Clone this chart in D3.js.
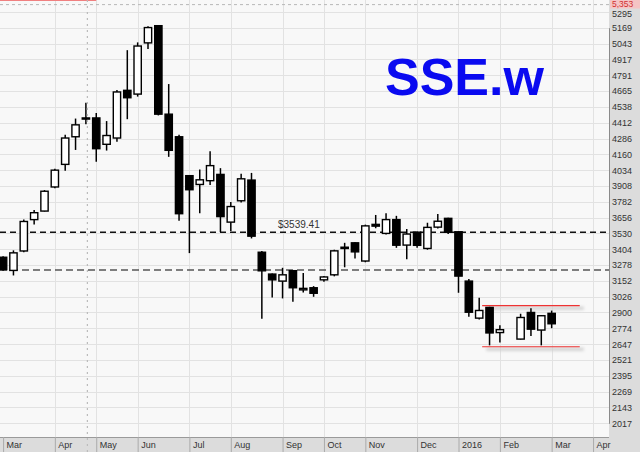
<!DOCTYPE html>
<html><head><meta charset="utf-8">
<script src="https://cdn.jsdelivr.net/npm/d3@7"></script>
<style>
html,body{margin:0;padding:0;background:#fff;}
svg{display:block;font-family:"Liberation Sans",Arial,sans-serif;}
</style></head>
<body>
<svg id="chart" width="640" height="452"></svg>
<script>
// ---- data (weekly SSE candles) ----
const weeks = ["2015-03-02","2015-03-09","2015-03-16","2015-03-23","2015-03-30","2015-04-06","2015-04-13","2015-04-20","2015-04-27","2015-05-04","2015-05-11","2015-05-18","2015-05-25","2015-06-01","2015-06-08","2015-06-15","2015-06-22","2015-06-29","2015-07-06","2015-07-13","2015-07-20","2015-07-27","2015-08-03","2015-08-10","2015-08-17","2015-08-24","2015-08-31","2015-09-07","2015-09-14","2015-09-21","2015-09-28","2015-10-05","2015-10-12","2015-10-19","2015-10-26","2015-11-02","2015-11-09","2015-11-16","2015-11-23","2015-11-30","2015-12-07","2015-12-14","2015-12-21","2015-12-28","2016-01-04","2016-01-11","2016-01-18","2016-01-25","2016-02-01","2016-02-15","2016-02-22","2016-02-29","2016-03-07"];
const open  = [3340,3235,3390,3640,3708,3900,4080,4300,4450,4450,4240,4290,4670,4640,5048,5185,4480,4300,3990,3920,3950,4000,3620,3790,3955,3380,3206,3150,3233,3080,3097,3160,3200,3420,3455,3310,3602,3530,3640,3437,3540,3410,3580,3650,3543,3150,2855,2940,2740,2688,2900,2760,2893];
const high  = [3347,3395,3640,3716,3875,4045,4317,4445,4572,4490,4425,4672,4990,5052,5180,5190,4720,4317,3990,4040,4185,4050,3780,4006,4012,3390,3210,3256,3235,3215,3110,3190,3400,3455,3460,3600,3677,3690,3670,3565,3545,3615,3685,3655,3546,3167,3018,2945,2798,2890,2933,2880,2915];
const low   = [3233,3195,3380,3600,3705,3890,4030,4195,4400,4100,4190,4260,4440,4620,5000,4470,4140,3630,3373,3690,3915,3540,3550,3776,3490,2850,3020,3012,2985,3060,3025,3145,3188,3260,3330,3300,3571,3522,3415,3325,3415,3400,3570,3525,3057,2866,2845,2638,2660,2685,2713,2638,2775];
const close = [3241,3375,3625,3695,3866,4034,4290,4395,4441,4205,4310,4657,4611,5023,5170,4480,4192,3687,3878,3957,4070,3664,3744,3965,3508,3232,3160,3200,3097,3092,3053,3183,3391,3410,3383,3590,3588,3640,3436,3525,3435,3578,3627,3539,3190,2902,2916,2737,2763,2860,2767,2874,2810];

const monthTicks  = ["2015-03-02","2015-04-06","2015-05-04","2015-06-01","2015-07-06","2015-08-03","2015-09-07","2015-10-05","2015-11-02","2015-12-07","2016-01-04","2016-02-01","2016-03-07","2016-04-04"];
const monthLabels = ["Mar","Apr","May","Jun","Jul","Aug","Sep","Oct","Nov","Dec","2016","Feb","Mar","Apr"];
const yTicks = [5295,5169,5043,4917,4791,4665,4538,4412,4286,4160,4034,3908,3782,3656,3530,3404,3278,3152,3026,2900,2774,2647,2521,2395,2269,2143,2017];

const levelLine = 3539.41;      // black dashed
const levelLine2 = 3238;        // gray dashed
const topLevel = 5353;          // gray dotted top
const resistance = 2954;        // red lines
const support = 2627;
const rangeStart = "2016-01-20", rangeEnd = "2016-03-26";
const cursorDate = "2015-04-28";
const title = "SSE.w";

// ---- layout ----
const W = 640, H = 452, plotR = 609, plotB = 437;
const parse = d3.timeParse("%Y-%m-%d");
const svg = d3.select("#chart");

const x = d3.scaleTime()
  .domain([parse("2015-03-02"), parse("2016-04-04")])
  .range([3.1, 3.1 + 57 * 10.35]);
const y = d3.scaleLinear().domain([2017, 5169]).range([423.3, 27.7]);

// backgrounds
svg.append("rect").attr("x",0).attr("y",0).attr("width",W).attr("height",H).attr("fill","#dcdcdc");
svg.append("rect").attr("x",0).attr("y",0).attr("width",plotR).attr("height",plotB).attr("fill","#f8f8f8");

const defs = svg.append("defs");
defs.append("clipPath").attr("id","plotclip").append("rect").attr("width",plotR).attr("height",plotB);
const blur = defs.append("filter").attr("id","blur").attr("x","-10%").attr("y","-200%").attr("width","120%").attr("height","500%");
blur.append("feGaussianBlur").attr("stdDeviation",1.5);

const plot = svg.append("g").attr("clip-path","url(#plotclip)");

// grid
plot.append("g").selectAll("line").data(yTicks).join("line")
  .attr("x1",0).attr("x2",plotR)
  .attr("y1",d=>Math.round(y(d))+0.5).attr("y2",d=>Math.round(y(d))+0.5)
  .attr("stroke","#e2e2e2").attr("stroke-width",1);
plot.append("g").selectAll("line").data(monthTicks.slice(1)).join("line")
  .attr("x1",d=>Math.round(x(parse(d)))+0.5).attr("x2",d=>Math.round(x(parse(d)))+0.5)
  .attr("y1",0).attr("y2",plotB)
  .attr("stroke","#e2e2e2").attr("stroke-width",1);

// top level dotted line + red segment
plot.append("line").attr("x1",0).attr("x2",plotR)
  .attr("y1",y(topLevel)).attr("y2",y(topLevel))
  .attr("stroke","#b8b8b8").attr("stroke-width",1).attr("stroke-dasharray","3,3");
plot.append("line").attr("x1",0).attr("x2",x(parse("2015-05-04")))
  .attr("y1",0.5).attr("y2",0.5).attr("stroke","#f08080").attr("stroke-width",1);

// cursor line
svg.append("line").attr("x1",x(parse(cursorDate))).attr("x2",x(parse(cursorDate)))
  .attr("y1",0).attr("y2",H)
  .attr("stroke","#bbbbbb").attr("stroke-width",1.2).attr("stroke-dasharray","2,4");

// dashed level lines
plot.append("line").attr("x1",0).attr("x2",plotR)
  .attr("y1",y(levelLine)).attr("y2",y(levelLine))
  .attr("stroke","#111").attr("stroke-width",1.6).attr("stroke-dasharray","6,4");
plot.append("line").attr("x1",0).attr("x2",plotR)
  .attr("y1",y(levelLine2)).attr("y2",y(levelLine2))
  .attr("stroke","#555").attr("stroke-width",1.6).attr("stroke-dasharray","7,4");
plot.append("text").attr("x",278).attr("y",y(levelLine)-4)
  .attr("font-size",10).attr("fill","#333").text("$" + levelLine.toFixed(2));

// range lines with shadows
[resistance, support].forEach(v => {
  plot.append("rect").attr("x",x(parse(rangeStart))+4).attr("width",x(parse(rangeEnd))-x(parse(rangeStart)))
    .attr("y",y(v)+1).attr("height",3).attr("fill","#cfcfcf").attr("filter","url(#blur)");
  plot.append("line").attr("x1",x(parse(rangeStart))).attr("x2",x(parse(rangeEnd)))
    .attr("y1",y(v)).attr("y2",y(v)).attr("stroke","#ee3333").attr("stroke-width",1.2);
});

// candles
const data = weeks.map((w,i)=>({d:parse(w),o:open[i],h:high[i],l:low[i],c:close[i]}));
const bw = 7.3;
const cg = plot.append("g");
cg.selectAll("line").data(data).join("line")
  .attr("x1",d=>x(d.d)).attr("x2",d=>x(d.d))
  .attr("y1",d=>y(d.h)).attr("y2",d=>y(d.l))
  .attr("stroke","#000").attr("stroke-width",1.5);
cg.selectAll("rect").data(data).join("rect")
  .attr("x",d=>x(d.d)-bw/2).attr("width",bw)
  .attr("y",d=>y(Math.max(d.o,d.c)))
  .attr("height",d=>Math.max(1,Math.abs(y(d.o)-y(d.c))))
  .attr("fill",d=>d.c>=d.o?"#fff":"#000")
  .attr("stroke","#000").attr("stroke-width",1.4);

// title
svg.append("text").attr("x",385).attr("y",95)
  .attr("font-size",52).attr("font-weight","bold").attr("fill","#0a0af0")
  .attr("font-family","'Liberation Sans',Arial,sans-serif").text(title);

// right axis
const ra = svg.append("g").attr("transform",`translate(${plotR},0)`)
  .call(d3.axisRight(y).tickValues(yTicks).tickSize(0).tickPadding(3).tickFormat(d=>d));
ra.select(".domain").attr("stroke","#8a8a8a");
ra.selectAll("text").attr("font-size",9).attr("fill","#333").attr("font-family","'Liberation Sans',Arial,sans-serif");
ra.selectAll(".tick").filter(d=>d===5295).select("text").attr("dy","0.55em");

// top price box
svg.append("rect").attr("x",plotR+1).attr("y",0).attr("width",W-plotR-1).attr("height",8.5).attr("fill","#f5c4c4");
svg.append("text").attr("x",plotR+3).attr("y",7).attr("font-size",8.5).attr("fill","#d03030")
  .text(d3.format(",")(topLevel));

// bottom axis
svg.append("line").attr("x1",0).attr("x2",plotR).attr("y1",plotB+0.5).attr("y2",plotB+0.5).attr("stroke","#9a9a9a");
const ba = svg.append("g").attr("transform",`translate(0,${plotB})`)
  .call(d3.axisBottom(x).tickValues(monthTicks.map(parse)).tickSize(15).tickFormat((d,i)=>monthLabels[i]));
ba.select(".domain").remove();
ba.selectAll(".tick line").attr("stroke","#aaaaaa");
ba.selectAll("text").attr("text-anchor","start").attr("x",3).attr("y",5).attr("dy","0.71em")
  .attr("font-size",9).attr("fill","#333").attr("font-family","'Liberation Sans',Arial,sans-serif");
</script>
</body></html>
